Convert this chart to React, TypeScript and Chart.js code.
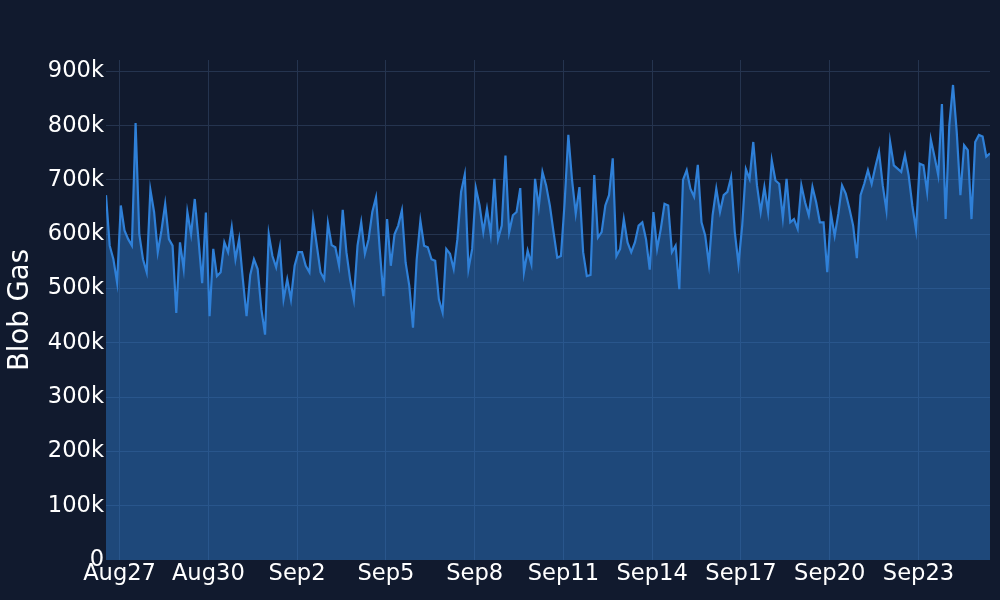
import React, { useEffect, useRef } from "react";
import { Chart, registerables } from "chart.js";

Chart.register(...registerables);

// Time axis: hours relative to Aug 27 00:00, one sample every 3 hours
const startHour = -11;
const stepHours = 3;

// Blob gas values (in thousands)
const blobGasK: number[] = [
  672, 579, 554, 511, 653, 607, 591, 579, 805, 600,
  554, 530, 682, 641, 567, 607, 656, 591, 579, 455,
  585, 536, 641, 600, 665, 591, 510, 640, 449, 573,
  523, 530, 585, 567, 613, 554, 591, 517, 449, 525,
  554, 536, 462, 415, 600, 560, 539, 576, 480, 517,
  480, 542, 567, 567, 542, 530, 628, 579, 530, 517,
  620, 580, 576, 542, 645, 567, 517, 480, 579, 622,
  564, 591, 641, 668, 573, 486, 628, 542, 600, 616,
  644, 548, 505, 428, 554, 625, 579, 576, 554, 551,
  480, 456, 573, 564, 536, 591, 678, 710, 536, 573,
  685, 653, 604, 647, 600, 702, 591, 616, 745, 604,
  635, 641, 685, 530, 570, 545, 702, 650, 715, 690,
  653, 604, 557, 560, 659, 783, 700, 638, 687, 567,
  523, 525, 709, 594, 604, 653, 672, 740, 560, 573,
  628, 585, 567, 585, 616, 622, 591, 535, 641, 573,
  610, 656, 653, 567, 579, 499, 700, 718, 684, 669,
  728, 622, 598, 545, 635, 684, 641, 672, 678, 705,
  604, 545, 616, 720, 702, 770, 690, 641, 687, 641,
  736, 699, 693, 630, 702, 622, 628, 610, 690, 659,
  635, 687, 659, 622, 622, 530, 638, 597, 638, 690,
  675, 647, 616, 556, 672, 693, 718, 693, 724, 752,
  690, 644, 770, 727, 721, 715, 746, 709, 653, 608,
  730, 727, 678, 775, 743, 709, 840, 628, 801, 875,
  789, 672, 764, 755, 628, 770, 783, 780, 743, 749,
];

// X tick positions (hours since Aug 27 00:00) and labels
const tickHours = [0, 72, 144, 216, 288, 360, 432, 504, 576, 648];
const tickLabels = ["Aug27", "Aug30", "Sep2", "Sep5", "Sep8", "Sep11", "Sep14", "Sep17", "Sep20", "Sep23"];

// Y ticks
const yTicks = [0, 100000, 200000, 300000, 400000, 500000, 600000, 700000, 800000, 900000];
const yTickLabels = ["0", "100k", "200k", "300k", "400k", "500k", "600k", "700k", "800k", "900k"];
const yMax = 921000;

const BG = "#111a2e";
const LINE = "#2f80d8";
const FILL = "rgba(47,128,216,0.45)";
const GRID = "#25344f";
const TEXT = "#ffffff";
const FONT = "'DejaVu Sans', Verdana, sans-serif";

export default function App() {
  const ref = useRef<HTMLCanvasElement>(null);

  useEffect(() => {
    const points = blobGasK.map((v, i) => ({ x: startHour + i * stepHours, y: v * 1000 }));
    const chart = new Chart(ref.current as HTMLCanvasElement, {
      type: "line",
      data: {
        datasets: [
          {
            data: points,
            borderColor: LINE,
            backgroundColor: FILL,
            borderWidth: 2.2,
            pointRadius: 0,
            tension: 0,
            fill: "origin",
          },
        ],
      },
      options: {
        responsive: false,
        animation: false,
        layout: { padding: { left: 0, right: 10, top: 60, bottom: 0 } },
        plugins: { legend: { display: false }, tooltip: { enabled: false } },
        scales: {
          x: {
            type: "linear",
            min: startHour,
            max: startHour + (blobGasK.length - 1) * stepHours,
            afterBuildTicks: (scale: any) => {
              scale.ticks = tickHours.map((v) => ({ value: v }));
            },
            afterFit: (scale: any) => {
              scale.height = 40;
            },
            grid: { color: GRID, lineWidth: 1, drawTicks: false },
            border: { display: false },
            ticks: {
              autoSkip: false,
              maxRotation: 0,
              minRotation: 0,
              padding: 1,
              color: TEXT,
              font: { family: FONT, size: 22.6 },
              callback: (value: any) => {
                const idx = tickHours.indexOf(Number(value));
                return idx >= 0 ? tickLabels[idx] : "";
              },
            },
          },
          y: {
            type: "linear",
            min: 0,
            max: yMax,
            afterBuildTicks: (scale: any) => {
              scale.ticks = yTicks.map((v) => ({ value: v }));
            },
            afterFit: (scale: any) => {
              scale.width = 106;
            },
            grid: {
              color: (ctx: any) => (ctx.tick && ctx.tick.value === 0 ? "rgba(0,0,0,0)" : GRID),
              lineWidth: 1,
              drawTicks: false,
            },
            border: { display: false },
            title: {
              display: true,
              text: "Blob Gas",
              color: TEXT,
              font: { family: FONT, size: 27.5 },
              padding: { top: 4, bottom: 0 },
            },
            ticks: {
              autoSkip: false,
              padding: 2,
              color: TEXT,
              font: { family: FONT, size: 22.6 },
              callback: (value: any) => {
                const idx = yTicks.indexOf(Number(value));
                return idx >= 0 ? yTickLabels[idx] : "";
              },
            },
          },
        },
      },
    } as any);
    return () => chart.destroy();
  }, []);

  return (
    <div
      style={{
        position: "fixed",
        left: 0,
        top: 0,
        width: 1000,
        height: 600,
        background: BG,
      }}
    >
      <canvas ref={ref} width={1000} height={600} style={{ display: "block" }} />
    </div>
  );
}
